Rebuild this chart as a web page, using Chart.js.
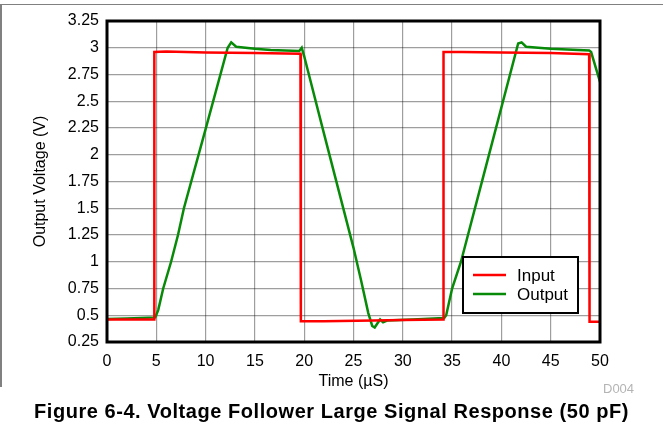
<!DOCTYPE html>
<html>
<head>
<meta charset="utf-8">
<script src="https://cdn.jsdelivr.net/npm/chart.js@4.4.1/dist/chart.umd.min.js"></script>
<style>
body { margin: 0; background: #fff; }
#wrap { position: relative; width: 663px; height: 428px; overflow: hidden; font-family: "Liberation Sans", Arial, sans-serif; }
#frame { position: absolute; left: 0; top: 4px; width: 663px; height: 383px; border-top: 1.5px solid #808080; border-left: 2px solid #808080; box-sizing: border-box; }
#chart { position: absolute; left: 0; top: 0; }
#code { position: absolute; left: 603px; top: 382px; font-size: 13px; line-height: 1; color: #b4b4b4; }
#caption { position: absolute; left: 0; width: 663px; top: 401px; text-align: center; font-weight: bold; font-size: 20px; letter-spacing: 0.55px; line-height: 1; color: #000; }
</style>
</head>
<body>
<div id="wrap">
  <div id="frame"></div>
  <canvas id="chart" width="663" height="428"></canvas>
  <div id="code">D004</div>
  <div id="caption">Figure 6-4. Voltage Follower Large Signal Response (50 pF)</div>
</div>
<script>
// tick labels
const xTickLabels = ['0', '5', '10', '15', '20', '25', '30', '35', '40', '45', '50'];
const yTickLabels = ['0.25', '0.5', '0.75', '1', '1.25', '1.5', '1.75', '2', '2.25', '2.5', '2.75', '3', '3.25'];

// Input trace (time in uS, volts)
const inputTime  = [0, 4.77, 4.80, 6, 10, 15, 19.62, 19.66, 22, 27, 30, 34.10, 34.13, 36, 40, 45, 48.90, 48.94, 50];
const inputVolts = [0.46, 0.46, 2.96, 2.965, 2.955, 2.95, 2.945, 0.445, 0.445, 0.45, 0.455, 0.46, 2.96, 2.96, 2.955, 2.95, 2.94, 0.44, 0.44];

// Output trace
const outputTime  = [0, 2, 4.9, 5.2, 5.7, 6.5, 7.2, 7.8, 10, 12.24, 12.6, 13.1, 15, 16.6, 19.5, 19.75, 20, 22, 25, 25.76, 26.5, 26.9, 27.15, 27.4, 27.7, 28.0, 28.4, 31, 34.2, 34.4, 35.0, 35.9, 38, 41.7, 42.05, 42.5, 45, 48.9, 49.1, 50];
const outputVolts = [0.465, 0.47, 0.48, 0.55, 0.75, 1.0, 1.25, 1.5, 2.24, 3.0, 3.05, 3.01, 2.99, 2.98, 2.97, 3.0, 2.92, 2.2, 1.13, 0.83, 0.52, 0.4, 0.385, 0.42, 0.46, 0.434, 0.45, 0.46, 0.475, 0.5, 0.75, 1.0, 1.74, 3.04, 3.05, 3.01, 2.99, 2.975, 2.96, 2.68];

const seriesLabels = ['Input', 'Output'];

function toPoints(xs, ys) {
  return xs.map((x, i) => ({ x: x, y: ys[i] }));
}

const fontFamily = '"Liberation Sans", Arial, sans-serif';

// black frame round the plot area
const plotFrame = {
  id: 'plotFrame',
  afterDatasetsDraw(chart) {
    const a = chart.chartArea;
    const c = chart.ctx;
    c.save();
    c.strokeStyle = '#000';
    c.lineWidth = 3;
    c.strokeRect(a.left, a.top, a.right - a.left, a.bottom - a.top);
    c.restore();
  }
};

// boxed legend inside the plot
const boxedLegend = {
  id: 'boxedLegend',
  afterDraw(chart) {
    const c = chart.ctx;
    c.save();
    c.fillStyle = '#fff';
    c.fillRect(463, 257, 115, 56);
    c.strokeStyle = '#000';
    c.lineWidth = 2;
    c.strokeRect(463, 257, 115, 56);
    chart.data.datasets.forEach((ds, i) => {
      const y = 275 + i * 19;
      c.strokeStyle = ds.borderColor;
      c.lineWidth = 2.5;
      c.beginPath();
      c.moveTo(473, y);
      c.lineTo(506, y);
      c.stroke();
      c.fillStyle = '#000';
      c.font = '17px ' + fontFamily;
      c.textBaseline = 'middle';
      c.fillText(ds.label, 517, y + 1);
    });
    c.restore();
  }
};

const gridColor = 'rgba(0,0,0,0.38)';

new Chart(document.getElementById('chart'), {
  type: 'line',
  data: {
    datasets: [
      {
        label: seriesLabels[0],
        data: toPoints(inputTime, inputVolts),
        borderColor: '#ff0000',
        borderWidth: 2.5,
        pointRadius: 0,
        tension: 0
      },
      {
        label: seriesLabels[1],
        data: toPoints(outputTime, outputVolts),
        borderColor: '#078a07',
        borderWidth: 2.5,
        pointRadius: 0,
        tension: 0
      }
    ]
  },
  options: {
    responsive: false,
    animation: false,
    devicePixelRatio: 1,
    layout: { padding: { top: 21, right: 63, left: 0, bottom: 0 } },
    plugins: {
      legend: { display: false },
      tooltip: { enabled: false }
    },
    scales: {
      x: {
        type: 'linear',
        min: 0,
        max: 50,
        afterFit(s) { s.height = 86; },
        border: { display: false },
        grid: { color: gridColor, lineWidth: 1.2, drawTicks: false },
        ticks: {
          stepSize: 5,
          padding: 10,
          color: '#000',
          font: { family: fontFamily, size: 16 },
          maxRotation: 0,
          callback: (v, i) => xTickLabels[i]
        },
        title: {
          display: true,
          text: 'Time (µS)',
          color: '#000',
          font: { family: fontFamily, size: 16 },
          padding: { top: 0, bottom: 37 }
        }
      },
      y: {
        type: 'linear',
        min: 0.25,
        max: 3.25,
        afterFit(s) { s.width = 107; },
        border: { display: false },
        grid: { color: gridColor, lineWidth: 1.2, drawTicks: false },
        ticks: {
          stepSize: 0.25,
          padding: 8,
          color: '#000',
          font: { family: fontFamily, size: 16 },
          callback: (v, i) => yTickLabels[i]
        },
        title: {
          display: true,
          text: 'Output Voltage (V)',
          color: '#000',
          font: { family: fontFamily, size: 16 },
          padding: { top: 31, bottom: 0 }
        }
      }
    }
  },
  plugins: [plotFrame, boxedLegend]
});
</script>
</body>
</html>
